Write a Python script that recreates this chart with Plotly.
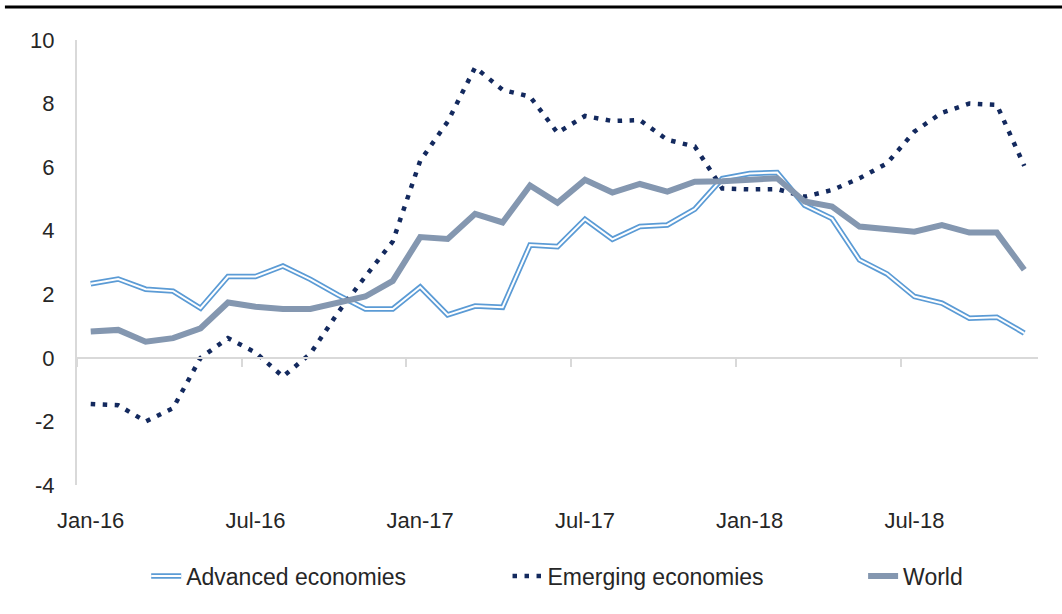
import plotly.graph_objects as go

months = [f"{y}-{m:02d}" for y in (2016, 2017, 2018) for m in range(1, 13)][:35]
tick_labels = ["Jan-16", "Jul-16", "Jan-17", "Jul-17", "Jan-18", "Jul-18"]
y_ticks = [-4, -2, 0, 2, 4, 6, 8, 10]

advanced = [2.33, 2.48, 2.16, 2.10, 1.56, 2.56, 2.56, 2.89, 2.47, 1.98,
            1.54, 1.54, 2.23, 1.35, 1.63, 1.59, 3.55, 3.50, 4.36, 3.73,
            4.13, 4.18, 4.68, 5.64, 5.80, 5.83, 4.80, 4.38, 3.08, 2.64,
            1.93, 1.72, 1.25, 1.28, 0.78]
emerging = [-1.45, -1.49, -2.00, -1.58, 0.00, 0.62, 0.17, -0.59, 0.13, 1.42,
            2.56, 3.66, 6.20, 7.43, 9.14, 8.43, 8.22, 7.08, 7.61, 7.45,
            7.48, 6.86, 6.65, 5.33, 5.30, 5.31, 5.07, 5.28, 5.65, 6.12,
            7.12, 7.71, 8.00, 7.96, 6.04]
world = [0.83, 0.88, 0.51, 0.62, 0.93, 1.74, 1.61, 1.54, 1.54, 1.74,
         1.93, 2.42, 3.80, 3.74, 4.53, 4.26, 5.42, 4.88, 5.60, 5.20,
         5.47, 5.23, 5.54, 5.56, 5.62, 5.65, 4.92, 4.76, 4.13, 4.05,
         3.97, 4.18, 3.94, 3.94, 2.77]

x = list(range(len(months)))
label_pos = [months.index(m) for m in ("2016-01", "2016-07", "2017-01", "2017-07", "2018-01", "2018-07")]
period_edges = [p - 0.5 for p in label_pos]

font = "Liberation Sans, Arial, sans-serif"
text_col = "#262626"
axis_col = "#D9D9D9"
adv_col = "#5B9BD5"

fig = go.Figure()
# double line: blue outer stroke with a white core
fig.add_trace(go.Scatter(x=x, y=advanced, mode="lines", name="Advanced economies",
                         legend="legend", line=dict(color=adv_col, width=5.5)))
fig.add_trace(go.Scatter(x=x, y=advanced, mode="lines", name="", legend="legend4",
                         hoverinfo="skip", line=dict(color="white", width=2)))
fig.add_trace(go.Scatter(x=x, y=emerging, mode="lines", name="Emerging economies",
                         legend="legend2", line=dict(color="#13295E", width=4.5, dash="4.5px,7.5px")))
# world sits on the overlay axis, which also carries the month labels
fig.add_trace(go.Scatter(x=x, y=world, mode="lines", name="World", xaxis="x2",
                         legend="legend3", line=dict(color="#8497B0", width=6)))

ymin, ymax = -4, 10
xr = [-0.5, len(months) - 0.5]
leg_y = -0.2045


def leg(xpos, bg="white"):
    return dict(orientation="h", x=xpos, xanchor="left", y=leg_y, yanchor="middle",
                bgcolor=bg, font=dict(size=23, color=text_col))


fig.update_layout(
    width=1062, height=614,
    margin=dict(l=77, r=24, t=40, b=129),
    plot_bgcolor="white", paper_bgcolor="white",
    font=dict(family=font, size=22, color=text_col),
    showlegend=True,
    legend=leg(0.072),
    legend2=leg(0.448),
    legend3=leg(0.818),
    legend4=leg(0.072, bg="rgba(0,0,0,0)"),
    # axis line sits on the zero line, with tick marks between periods
    xaxis=dict(range=xr, anchor="free", position=(0 - ymin) / (ymax - ymin),
               showline=True, linecolor=axis_col, linewidth=2, showgrid=False, zeroline=False,
               showticklabels=False, ticks="", automargin=False,
               minor=dict(tickvals=period_edges, ticks="outside", ticklen=8,
                          tickcolor=axis_col, tickwidth=1.5, showgrid=False)),
    xaxis2=dict(range=xr, matches="x", overlaying="x", anchor="y", side="bottom",
                showline=False, showgrid=False, zeroline=False, ticks="", automargin=False,
                tickvals=label_pos, ticktext=tick_labels, ticklabelstandoff=20,
                tickfont=dict(size=22, color=text_col)),
    yaxis=dict(range=[ymin, ymax], tickvals=y_ticks, ticktext=[str(v) for v in y_ticks],
               showgrid=False, zeroline=False, automargin=False,
               showline=True, linecolor=axis_col, linewidth=2, ticks="",
               ticklabelstandoff=16, tickfont=dict(size=22, color=text_col)),
    shapes=[dict(type="line", xref="paper", yref="paper", x0=-0.075, x1=1.03,
                 y0=1.074, y1=1.074, line=dict(color="black", width=3))],
)

fig.write_html("out.html", config={"displayModeBar": False},
               post_script="document.body.style.margin='0';")
